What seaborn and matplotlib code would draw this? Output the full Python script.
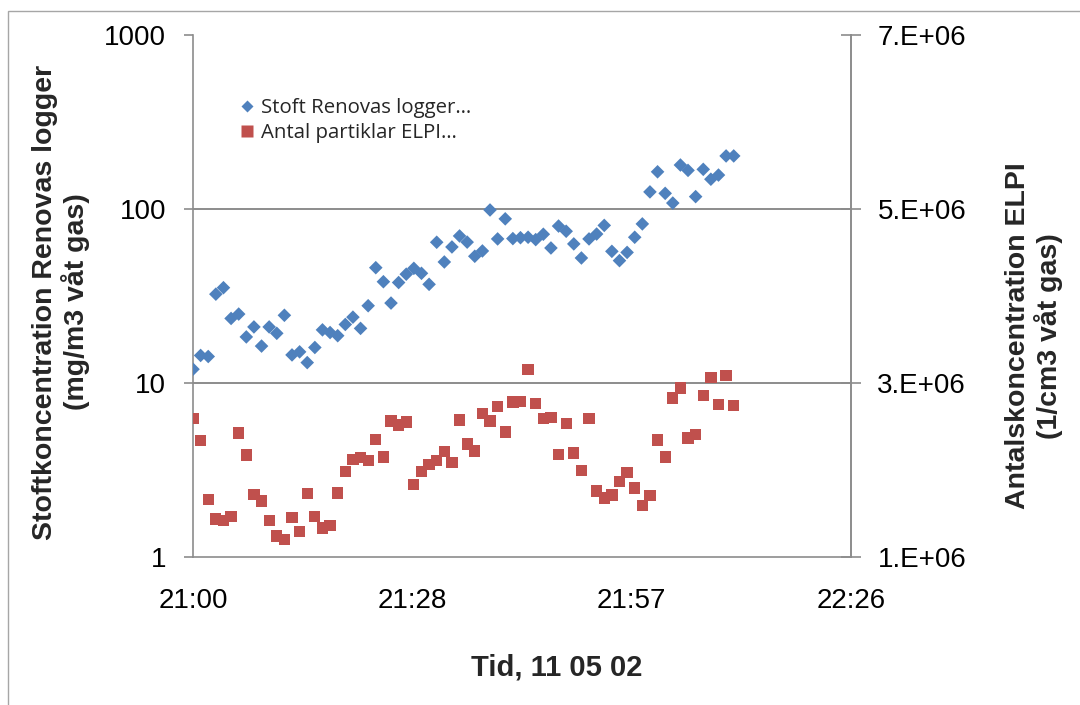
import matplotlib
matplotlib.use("Agg")
import matplotlib.pyplot as plt
from matplotlib.lines import Line2D
from matplotlib.patches import Rectangle
import seaborn as sns
import pandas as pd

# Sampling times, one reading per minute from 21:00
times = pd.date_range("2011-05-02 21:00", periods=72, freq="min")

# Dust concentration from the Renovas logger (mg/m3 wet gas)
stoft = [12.0, 14.4, 14.2, 32.4, 35.3, 23.5, 24.9, 18.4, 21.0, 16.3,
         21.0, 19.3, 24.5, 14.5, 15.1, 13.1, 16.0, 20.2, 19.5, 18.7,
         21.7, 23.9, 20.6, 27.8, 46.0, 38.2, 28.8, 37.8, 42.2, 45.6,
         42.7, 36.9, 64.4, 49.6, 60.5, 70.0, 64.5, 53.5, 57.4, 98.7,
         67.3, 87.8, 67.6, 68.4, 68.8, 66.7, 71.6, 59.7, 79.8, 74.5,
         63.0, 52.3, 67.3, 71.8, 80.5, 57.1, 50.5, 56.3, 68.8, 82.1,
         125.4, 163.6, 123.0, 108.2, 179.0, 166.7, 117.8, 169.0, 148.3, 156.7,
         201.8, 201.8]

# Particle number concentration from the ELPI (1/cm3 wet gas)
elpi = [2.594e6, 2.337e6, 1.659e6, 1.437e6, 1.421e6, 1.464e6, 2.425e6, 2.172e6, 1.720e6, 1.644e6,
        1.418e6, 1.241e6, 1.199e6, 1.452e6, 1.291e6, 1.732e6, 1.464e6, 1.333e6, 1.360e6, 1.736e6,
        1.985e6, 2.123e6, 2.141e6, 2.111e6, 2.349e6, 2.149e6, 2.563e6, 2.517e6, 2.552e6, 1.835e6,
        1.985e6, 2.065e6, 2.111e6, 2.211e6, 2.084e6, 2.575e6, 2.299e6, 2.218e6, 2.652e6, 2.563e6,
        2.732e6, 2.437e6, 2.782e6, 2.785e6, 3.153e6, 2.767e6, 2.590e6, 2.601e6, 2.176e6, 2.533e6,
        2.195e6, 1.996e6, 2.590e6, 1.759e6, 1.678e6, 1.713e6, 1.866e6, 1.973e6, 1.793e6, 1.594e6,
        1.709e6, 2.345e6, 2.149e6, 2.828e6, 2.943e6, 2.368e6, 2.410e6, 2.854e6, 3.066e6, 2.751e6,
        3.084e6, 2.739e6]

left_ticks = [1, 10, 100, 1000]
left_labels = ["1", "10", "100", "1000"]
right_ticks = [1e6, 3e6, 5e6, 7e6]
right_labels = ["1.E+06", "3.E+06", "5.E+06", "7.E+06"]
x_ticks = ["2011-05-02 21:00:00", "2011-05-02 21:28:48",
           "2011-05-02 21:57:36", "2011-05-02 22:26:24"]
x_labels = ["21:00", "21:28", "21:57", "22:26"]

label_stoft = "Stoft Renovas logger\u2026"
label_elpi = "Antal partiklar ELPI\u2026"

BLUE = "#4F81BD"
RED = "#C0504D"
GRID = "#8C8C8C"

sns.set_theme(style="white")
plt.rcParams["font.family"] = ["Liberation Sans", "DejaVu Sans"]

df = pd.DataFrame({"tid": times, "stoft": stoft, "elpi": elpi})

W, H = 1080, 705
fig = plt.figure(figsize=(W / 100, H / 100), dpi=100)
fig.patch.set_facecolor("white")
fig.patches.append(Rectangle((8 / W, -0.01), 1.2, 1 - 11 / H + 0.01,
                             transform=fig.transFigure, fill=False,
                             edgecolor="#A6A6A6", linewidth=1.0))

ax = fig.add_axes([193 / W, 1 - 557 / H, (851 - 193) / W, (557 - 35) / H])
ax.set_facecolor("none")
ax2 = ax.twinx()

sns.scatterplot(data=df, x="tid", y="stoft", ax=ax, marker="D", s=48,
                color=BLUE, edgecolor="none", linewidth=0, zorder=3)
sns.scatterplot(data=df, x="tid", y="elpi", ax=ax2, marker="s", s=66,
                color=RED, edgecolor="none", linewidth=0, zorder=3)

ax.set_yscale("log")
ax.set_ylim(1, 1000)
ax.set_yticks(left_ticks)
ax.set_yticklabels(left_labels)
ax.yaxis.set_minor_locator(matplotlib.ticker.NullLocator())
ax2.set_ylim(1e6, 7e6)
ax2.set_yticks(right_ticks)
ax2.set_yticklabels(right_labels)

xt = pd.to_datetime(x_ticks)
ax.set_xlim(xt[0], xt[-1])
ax.set_xticks(xt)
ax.set_xticklabels(x_labels)

# horizontal grid lines at the inner decades only
for v in left_ticks[1:-1]:
    ax.axhline(v, color=GRID, linewidth=1.4, zorder=1)

for a in (ax, ax2):
    a.set_xlabel("")
    a.set_ylabel("")
    a.grid(False)
    for side in ("left", "right", "bottom"):
        a.spines[side].set_color(GRID)
        a.spines[side].set_linewidth(1.2)
    a.spines["top"].set_visible(False)

ax.tick_params(axis="y", which="major", direction="out", length=6.5, width=1.2,
               color=GRID, labelsize=20, pad=13, labelcolor="black")
ax.tick_params(axis="x", which="major", direction="out", length=6.5, width=1.2,
               color=GRID, labelsize=20, pad=15.5, labelcolor="black")
ax2.tick_params(axis="y", which="major", direction="inout", length=15, width=1.2,
                color=GRID, labelsize=20, pad=11.5, labelcolor="black")
ax2.spines["left"].set_visible(False)
ax2.spines["bottom"].set_visible(False)

fig.text(61 / W, 1 - 302 / H,
         "Stoftkoncentration Renovas logger\n(mg/m3 våt gas)",
         rotation=90, ha="center", va="center", multialignment="center",
         fontsize=20.5, fontweight="bold", linespacing=1.1)
fig.text(1034 / W, 1 - 336 / H,
         "Antalskoncentration ELPI\n(1/cm3 våt gas)",
         rotation=90, ha="center", va="center", multialignment="center",
         fontsize=20.5, fontweight="bold", linespacing=1.1)
fig.text(557 / W, 1 - 668 / H, "Tid, 11 05 02", ha="center", va="center",
         fontsize=21, fontweight="bold")

handles = [
    Line2D([], [], linestyle="none", marker="D", markersize=6.5,
           markerfacecolor=BLUE, markeredgecolor="none"),
    Line2D([], [], linestyle="none", marker="s", markersize=8,
           markerfacecolor=RED, markeredgecolor="none"),
]
ax2.legend(handles, [label_stoft, label_elpi], loc="upper left",
           bbox_to_anchor=(241 / W, 1 - 98 / H), bbox_transform=fig.transFigure,
           frameon=False, handlelength=0.6, handletextpad=0.4,
           labelspacing=0.25, borderpad=0, borderaxespad=0,
           prop={"family": ["Open Sans", "DejaVu Sans"], "size": 14.7})

fig.savefig("out.png", dpi=100, facecolor="white")
